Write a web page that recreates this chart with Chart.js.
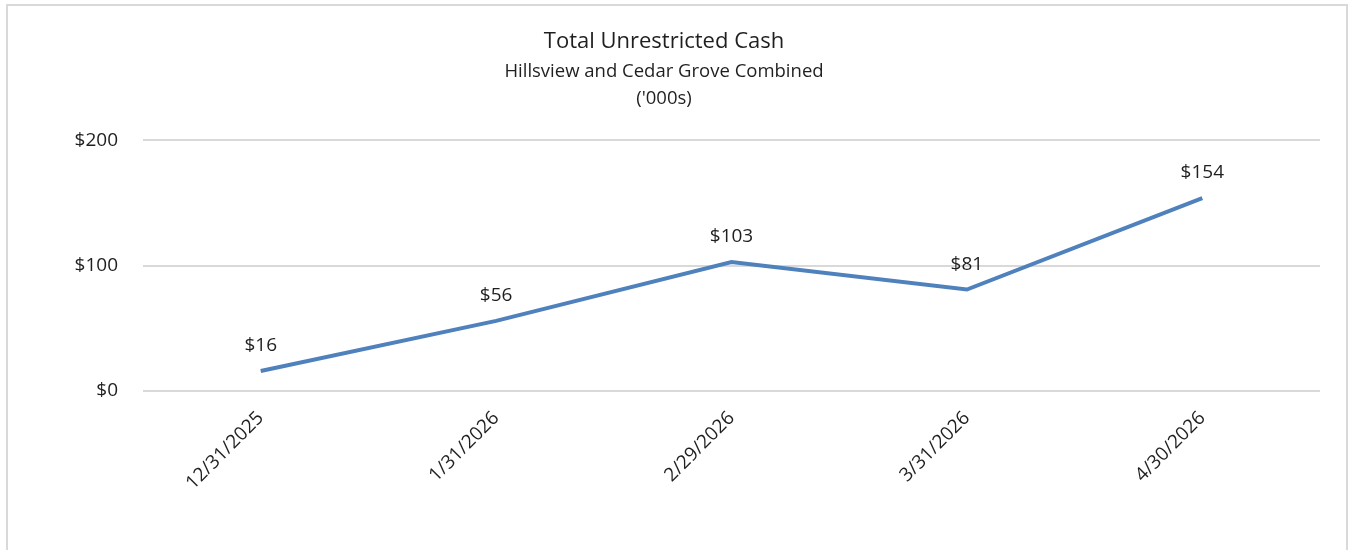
<!DOCTYPE html>
<html>
<head>
<meta charset="utf-8">
<script src="https://cdn.jsdelivr.net/npm/chart.js@4.4.1/dist/chart.umd.min.js"></script>
<style>
  body { margin: 0; background: #fff; }
  #box {
    position: absolute; left: 6px; top: 4px;
    width: 1338px; height: 560px;
    border: 2px solid #d9d9d9; background: #fff;
  }
  #wrap { position: relative; width: 1338px; height: 544px; }
</style>
</head>
<body>
<div id="box"><div id="wrap"><canvas id="cashChart"></canvas></div></div>
<script>
  var periodLabels = ['12/31/2025', '1/31/2026', '2/29/2026', '3/31/2026', '4/30/2026'];
  var cashValues = [16, 56, 103, 81, 154];
  var yTicks = [0, 100, 200];

  var fontFam = "'Open Sans', 'Noto Sans', sans-serif";

  // draws the $ labels above each point
  var pointLabels = {
    id: 'pointLabels',
    afterDatasetsDraw: function (chart) {
      var ctx = chart.ctx;
      var meta = chart.getDatasetMeta(0);
      ctx.save();
      ctx.font = '19px ' + fontFam;
      ctx.fillStyle = '#1f1f1f';
      ctx.textAlign = 'center';
      ctx.textBaseline = 'middle';
      meta.data.forEach(function (pt, i) {
        ctx.fillText('$' + cashValues[i], pt.x, pt.y - 25);
      });
      ctx.restore();
    }
  };

  new Chart(document.getElementById('cashChart'), {
    type: 'line',
    data: {
      labels: periodLabels,
      datasets: [{
        data: cashValues,
        borderColor: '#4f81bd',
        borderWidth: 4,
        pointRadius: 0,
        tension: 0,
        fill: false
      }]
    },
    options: {
      responsive: true,
      maintainAspectRatio: false,
      animation: false,
      layout: { padding: { top: 0, right: 26, left: 0, bottom: 0 } },
      plugins: {
        legend: { display: false },
        tooltip: { enabled: false },
        title: {
          display: true,
          text: 'Total Unrestricted Cash',
          color: '#1f1f1f',
          font: { family: fontFam, size: 22, weight: 'normal', lineHeight: 1.2 },
          padding: { top: 23, bottom: 0 }
        },
        subtitle: {
          display: true,
          text: ['Hillsview and Cedar Grove Combined', "('000s)"],
          color: '#1f1f1f',
          font: { family: fontFam, size: 18.5, weight: 'normal', lineHeight: 1.46 },
          padding: { top: 3, bottom: 28 }
        }
      },
      scales: {
        x: {
          offset: true,
          grid: { display: false },
          border: { display: false },
          ticks: {
            color: '#1f1f1f',
            font: { family: fontFam, size: 19 },
            maxRotation: 45,
            minRotation: 45,
            padding: 8
          },
          afterFit: function (s) { s.height = 159; }
        },
        y: {
          min: 0,
          max: 200,
          afterBuildTicks: function (s) {
            s.ticks = yTicks.map(function (v) { return { value: v }; });
          },
          grid: { color: '#d9d9d9', lineWidth: 2, drawTicks: false },
          border: { display: false },
          ticks: {
            color: '#1f1f1f',
            font: { family: fontFam, size: 19 },
            padding: 25,
            callback: function (v) { return '$' + v; }
          },
          afterFit: function (s) { s.width = 135; }
        }
      }
    },
    plugins: [pointLabels]
  });
</script>
</body>
</html>
